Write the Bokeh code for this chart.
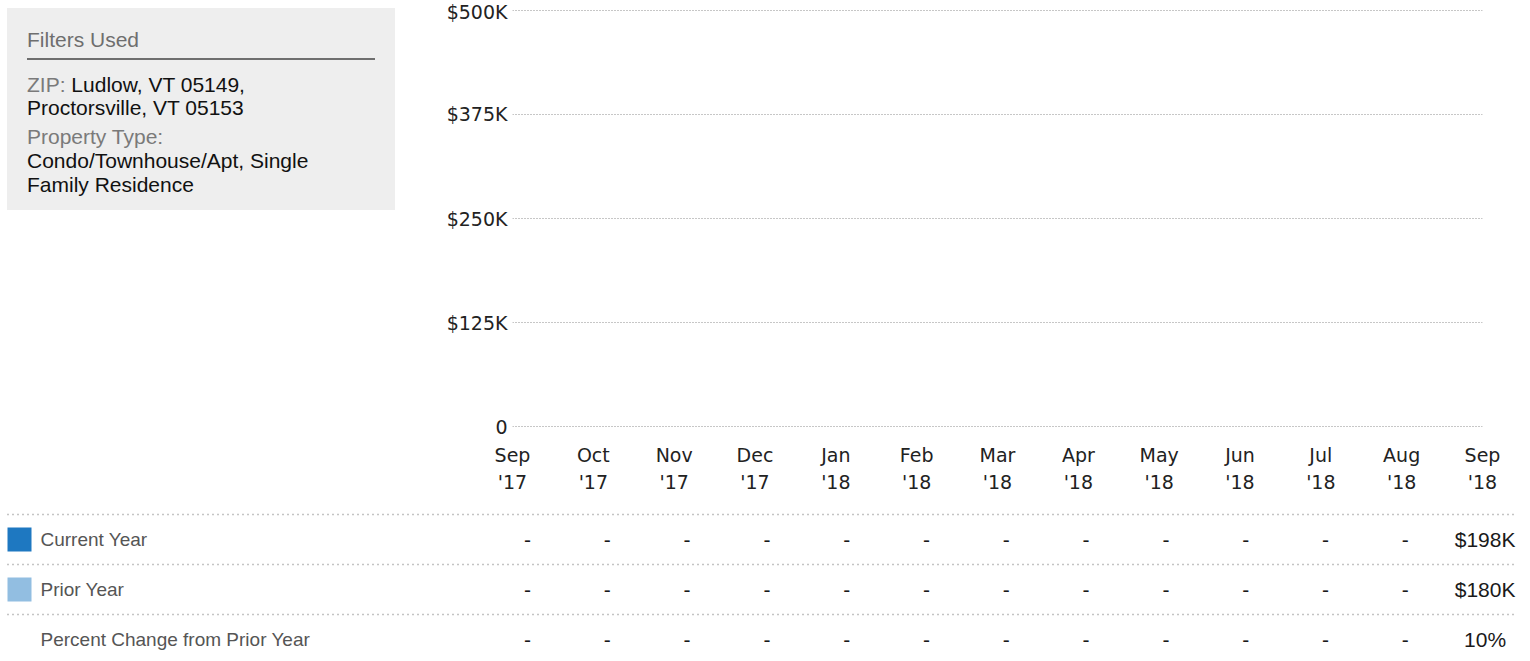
from bokeh.plotting import figure
from bokeh.models import Range1d, FixedTicker, LinearAxis, Div, ColumnDataSource
from bokeh.layouts import row, column
from bokeh.embed import file_html
from bokeh.resources import INLINE
from bokeh.core.properties import value

# ---------------- data ----------------
months = ["Sep", "Oct", "Nov", "Dec", "Jan", "Feb", "Mar", "Apr", "May", "Jun", "Jul", "Aug", "Sep"]
years = ["'17", "'17", "'17", "'17", "'18", "'18", "'18", "'18", "'18", "'18", "'18", "'18", "'18"]
current_year = [None, None, None, None, None, None, None, None, None, None, None, None, 198000]
prior_year = [None, None, None, None, None, None, None, None, None, None, None, None, 180000]
y_ticks = [0, 125000, 250000, 375000, 500000]
y_tick_labels = ["0", "$125K", "$250K", "$375K", "$500K"]
row_labels = ["Current Year", "Prior Year", "Percent Change from Prior Year"]
series_colors = ["#1e78c1", "#92bee1"]
filter_zip = ["Ludlow, VT 05149,", "Proctorsville, VT 05153"]
filter_type = ["Condo/Townhouse/Apt, Single", "Family Residence"]


def money(v):
    return "-" if v is None else "$%dK" % round(v / 1000)


def pct(c, p):
    if c is None or p is None:
        return "-"
    return "%d%%" % round((c - p) / p * 100)


# ---------------- filter box ----------------
lab = "color:#7a7a7a"
val = "color:#111111"
html = (
    "<div style=\"position:relative;width:388px;height:202px;background:#eeeeee;"
    "font-family:'Liberation Sans',Arial,sans-serif;font-size:21px;line-height:21px;\">"
    "<div style=\"position:absolute;left:20px;top:21px;color:#6e6e6e;white-space:nowrap;\">Filters Used</div>"
    "<div style=\"position:absolute;left:20px;top:50px;width:348px;height:2px;background:#6e6e6e;\"></div>"
    f"<div style=\"position:absolute;left:20px;top:66px;white-space:nowrap;\"><span style=\"{lab}\">ZIP:</span> <span style=\"{val}\">{filter_zip[0]}</span></div>"
    f"<div style=\"position:absolute;left:20px;top:89px;white-space:nowrap;{val}\">{filter_zip[1]}</div>"
    f"<div style=\"position:absolute;left:20px;top:118px;white-space:nowrap;{lab}\">Property Type:</div>"
    f"<div style=\"position:absolute;left:20px;top:142px;white-space:nowrap;{val}\">{filter_type[0]}</div>"
    f"<div style=\"position:absolute;left:20px;top:166px;white-space:nowrap;{val}\">{filter_type[1]}</div>"
    "</div>"
)
filters = Div(text=html, width=388, height=202, margin=(8, 0, 0, 7))

# ---------------- chart ----------------
tick_color = "#222222"

p = figure(width=1127, height=500, x_range=Range1d(0, len(months) - 1), y_range=Range1d(-1200, 501200),
           output_backend="svg", toolbar_location=None,
           min_border_left=117, min_border_right=40, min_border_top=9, min_border_bottom=73,
           margin=(0, 0, 0, 0))
p.outline_line_color = None
p.xgrid.visible = False
p.ygrid.ticker = FixedTicker(ticks=y_ticks)
p.ygrid.grid_line_color = "#8f8f8f"
p.ygrid.grid_line_dash = "1 2"
p.ygrid.grid_line_width = 1

ya = p.yaxis[0]
ya.ticker = FixedTicker(ticks=y_ticks)
ya.major_label_overrides = {t: l for t, l in zip(y_ticks, y_tick_labels)}
ya.axis_line_color = None
ya.major_tick_line_color = None
ya.minor_tick_line_color = None
ya.major_tick_out = 0
ya.major_tick_in = 0
ya.major_label_standoff = 5
ya.major_label_text_font = "DejaVu Sans"
ya.major_label_text_font_size = "19px"
ya.major_label_text_color = tick_color

xa = p.xaxis[0]
xa.ticker = FixedTicker(ticks=list(range(len(months))))
xa.major_label_overrides = {i: m for i, m in enumerate(months)}
xa.axis_line_color = None
xa.major_tick_line_color = None
xa.minor_tick_line_color = None
xa.major_tick_out = 0
xa.major_tick_in = 0
xa.major_label_standoff = 16
xa.major_label_text_font = "DejaVu Sans"
xa.major_label_text_font_size = "19px"
xa.major_label_text_color = tick_color

xa2 = LinearAxis(ticker=FixedTicker(ticks=list(range(len(years)))),
                 major_label_overrides={i: y for i, y in enumerate(years)})
xa2.axis_line_color = None
xa2.major_tick_line_color = None
xa2.minor_tick_line_color = None
xa2.major_tick_out = 0
xa2.major_tick_in = 0
xa2.major_label_standoff = 2
xa2.major_label_text_font = "DejaVu Sans"
xa2.major_label_text_font_size = "19px"
xa2.major_label_text_color = tick_color
p.add_layout(xa2, "below")

# ---------------- table ----------------
COL0 = 527.0      # page x of first column centre
COLW = 79.8       # column spacing
LEFT = 0.0
TW = 1522
ROW0 = 539.0      # page y of first row centre
ROWH = 50.0
TTOP = 500.0
TH = 153


def px(xpage):
    return (xpage - COL0) / COLW


t = figure(width=TW, height=TH,
           x_range=Range1d(px(LEFT), px(LEFT + TW)),
           y_range=Range1d((TTOP + TH - ROW0) / ROWH, (TTOP - ROW0) / ROWH),
           output_backend="svg", toolbar_location=None, min_border=0,
           x_axis_location=None, y_axis_location=None, margin=(0, 0, 0, 0))
t.grid.visible = False
t.outline_line_color = None

# separators
sep_y = [-0.5, 0.5, 1.5]
t.segment(x0=[px(7)] * 3, x1=[px(1515)] * 3, y0=sep_y, y1=sep_y,
          line_color="#8a8a8a", line_width=1.5, line_dash="1 4")

# legend squares
t.rect(x=[px(19), px(19)], y=[0, 1], width=24, height=24, width_units="screen", height_units="screen",
       fill_color=series_colors, line_color=None)

# row labels
t.text(x=[px(40)] * 3, y=[0, 1, 2], text=row_labels, text_align="left", text_baseline="middle",
       text_font=value("Liberation Sans"), text_font_size="19px", text_color="#555555")

# cells
cx, cy, ct = [], [], []
for i in range(len(months)):
    vals = [money(current_year[i]), money(prior_year[i]), pct(current_year[i], prior_year[i])]
    for r, v in enumerate(vals):
        cx.append(i)
        cy.append(r)
        ct.append(v)
src = ColumnDataSource(dict(x=cx, y=cy, text=ct))
t.text(x="x", y="y", text="text", source=src, text_align="center", text_baseline="middle",
       text_font=value("Liberation Sans"), text_font_size="21px", text_color="#1a1a1a")

layout = column(row(filters, p, spacing=0), t, spacing=0)

open("out.html", "w").write(file_html(layout, INLINE))
